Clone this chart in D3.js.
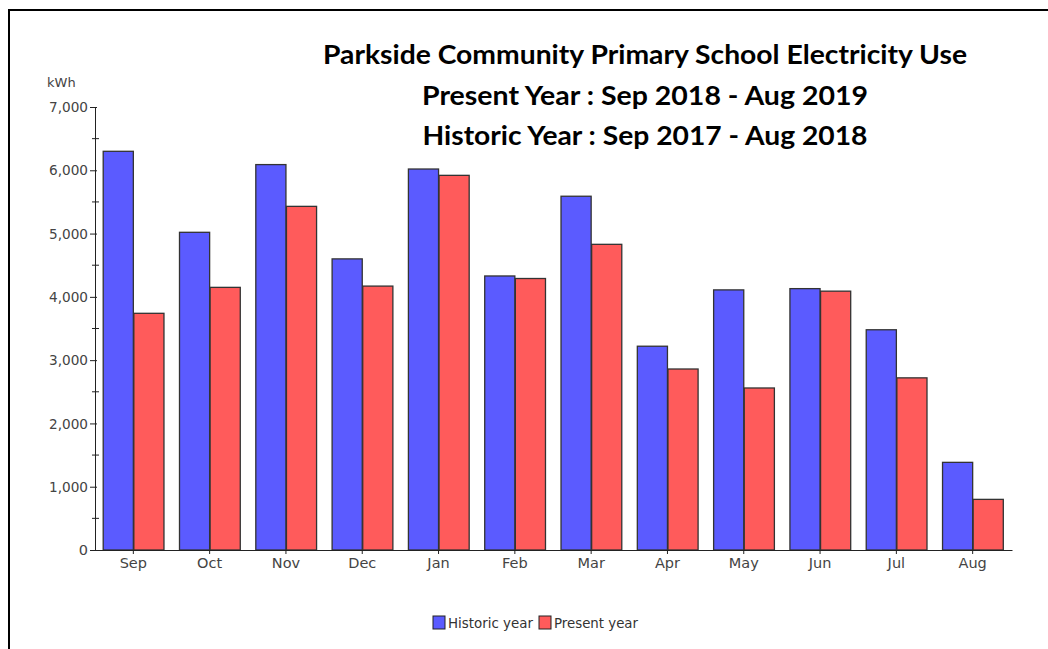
<!DOCTYPE html>
<html><head><meta charset="utf-8">
<script src="https://cdn.jsdelivr.net/npm/d3@7/dist/d3.min.js"></script>
<style>body{margin:0;background:#fff;} svg{display:block;}</style>
</head><body>
<svg id="chart" width="1048" height="649"></svg>
<script>
const months = ["Sep","Oct","Nov","Dec","Jan","Feb","Mar","Apr","May","Jun","Jul","Aug"];
const historic = [6300,5020,6090,4600,6020,4330,5590,3220,4110,4130,3480,1385];
const present  = [3740,4150,5430,4170,5920,4290,4830,2860,2560,4090,2720,800];
const seriesNames = ["Historic year","Present year"];
const seriesColors = ["#5b5bff","#ff5b5b"];
const yTicks = [0,1000,2000,3000,4000,5000,6000,7000];
const yMinor = [500,1500,2500,3500,4500,5500,6500];
const titleLines = ["Parkside Community Primary School Electricity Use","Present Year : Sep 2018 - Aug 2019","Historic Year : Sep 2017 - Aug 2018"];

const svg = d3.select("#chart");
svg.append("rect").attr("x",9).attr("y",10).attr("width",1100).attr("height",700)
  .attr("fill","none").attr("stroke","#000").attr("stroke-width",2);

const x0 = d3.scaleBand().domain(months).range([94,1012]).paddingInner(0.197).paddingOuter(0.114);
const x1 = d3.scaleBand().domain([0,1]).range([0,x0.bandwidth()]);
const y = d3.scaleLinear().domain([0,7000]).range([550,107]);

const data = [historic, present];
const g = svg.append("g");
months.forEach((m,i)=>{
  [0,1].forEach(s=>{
    const v = data[s][i];
    g.append("rect")
      .attr("x", x0(m)+x1(s)+0.5)
      .attr("y", y(v))
      .attr("width", x1.bandwidth()-0.5)
      .attr("height", y(0)-y(v))
      .attr("fill", seriesColors[s])
      .attr("stroke","#333").attr("stroke-width",1.3);
  });
});

const tickFont = {family:"DejaVu Sans", size:14.5, fill:"#444"};
const yAxis = svg.append("g").attr("transform","translate(95,0)")
  .call(d3.axisLeft(y).tickValues(yTicks).tickFormat(d3.format(",")).tickSizeInner(5).tickSizeOuter(0).tickPadding(2));
yAxis.select(".domain").attr("stroke","#222");
yAxis.selectAll(".tick line").attr("stroke","#222").attr("x2",-5).attr("x1",2);
yAxis.selectAll("text").attr("font-family",tickFont.family).attr("font-size",tickFont.size).attr("fill",tickFont.fill)
  .attr("textLength",d=> d===0 ? null : 39).attr("lengthAdjust","spacingAndGlyphs");
yMinor.forEach(v=>{
  svg.append("line").attr("x1",92).attr("x2",99).attr("y1",y(v)).attr("y2",y(v)).attr("stroke","#222");
});
svg.append("text").attr("x",47).attr("y",87).text("kWh")
  .attr("font-family","DejaVu Sans").attr("font-size",13).attr("fill","#444");

const xAxis = svg.append("g").attr("transform","translate(0,550)")
  .call(d3.axisBottom(x0).tickSizeInner(4).tickSizeOuter(0).tickPadding(4));
xAxis.select(".domain").attr("stroke","#222");
xAxis.selectAll(".tick line").attr("stroke","#222");
xAxis.selectAll("text").attr("font-family",tickFont.family).attr("font-size",tickFont.size).attr("fill",tickFont.fill);

const titleW = [644, 446, 445];
const titleY = [64, 105, 145];
titleLines.forEach((t,i)=>{
  svg.append("text").attr("x",645).attr("y",titleY[i]).attr("text-anchor","middle")
    .attr("font-family","Lato").attr("font-weight","bold").attr("font-size",27).attr("fill","#000")
    .attr("textLength",titleW[i]).attr("lengthAdjust","spacingAndGlyphs").text(t);
});

const legend = svg.append("g");
const lx = [433, 539];
seriesNames.forEach((n,i)=>{
  legend.append("rect").attr("x",lx[i]).attr("y",616).attr("width",12).attr("height",13)
    .attr("fill",seriesColors[i]).attr("stroke","#222").attr("stroke-width",1);
  legend.append("text").attr("x",lx[i]+15).attr("y",628).text(n)
    .attr("font-family","DejaVu Sans").attr("font-size",14).attr("fill","#333")
    .attr("textLength", i===0 ? 85 : 84).attr("lengthAdjust","spacingAndGlyphs");
});
</script>
</body></html>
